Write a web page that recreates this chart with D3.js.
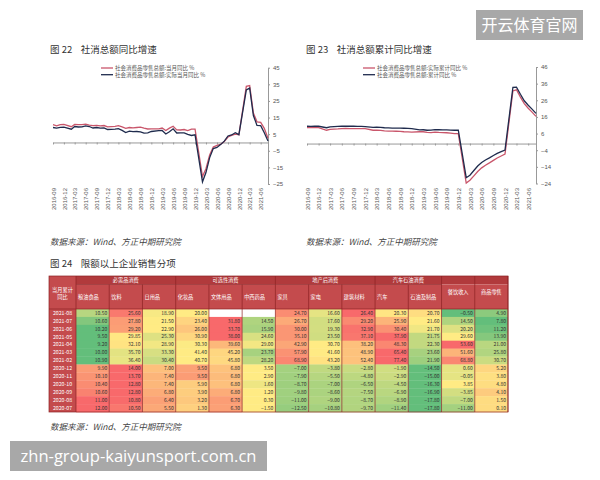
<!DOCTYPE html>
<html lang="zh">
<head>
<meta charset="utf-8">
<script src="https://cdn.jsdelivr.net/npm/d3@7"></script>
<style>
body { margin: 0; background: #fff; }
svg { display: block; font-family: "Noto Sans CJK SC", "Noto Sans", sans-serif; }
svg text { white-space: pre; }
</style>
</head>
<body>
<svg id="chart" width="600" height="480"></svg>
<script>
// monthly data, January is released together with February so it is missing
var months = [
  "2016-09","2016-10","2016-11","2016-12",
  "2017-02","2017-03","2017-04","2017-05","2017-06","2017-07","2017-08","2017-09","2017-10","2017-11","2017-12",
  "2018-02","2018-03","2018-04","2018-05","2018-06","2018-07","2018-08","2018-09","2018-10","2018-11","2018-12",
  "2019-02","2019-03","2019-04","2019-05","2019-06","2019-07","2019-08","2019-09","2019-10","2019-11","2019-12",
  "2020-02","2020-03","2020-04","2020-05","2020-06","2020-07","2020-08","2020-09","2020-10","2020-11","2020-12",
  "2021-02","2021-03","2021-04","2021-05","2021-06","2021-07","2021-08"
];
var tickLabels = ["2016-09","2016-12","2017-03","2017-06","2017-09","2017-12","2018-03","2018-06","2018-09","2018-12",
  "2019-03","2019-06","2019-09","2019-12","2020-03","2020-06","2020-09","2020-12","2021-03","2021-06"];

// 图22
var monthYoY = [10.7,10.0,10.8,10.9,
  9.5,10.9,10.7,10.7,11.0,10.4,10.1,10.3,10.0,10.2,9.4,
  9.7,10.1,9.4,8.5,9.0,8.8,9.0,9.2,8.6,8.1,8.2,
  8.2,8.7,7.2,8.6,9.8,7.6,7.5,7.8,7.2,8.0,8.0,
  -20.5,-15.8,-7.5,-2.8,-1.8,-1.1,0.5,3.3,4.3,5.0,4.6,
  33.8,34.2,17.7,12.4,12.1,8.5,2.5];
var monthRealYoY = [9.0,8.6,9.1,9.2,
  8.0,9.6,9.3,9.4,10.0,9.6,8.7,9.0,8.6,8.8,7.8,
  8.0,8.3,7.3,6.0,6.8,6.5,6.6,6.4,5.6,5.8,6.6,
  7.1,7.2,5.1,6.4,8.2,5.7,5.8,5.8,4.9,4.2,4.6,
  -23.7,-18.1,-9.1,-3.7,-3.0,-1.3,0.8,3.9,4.5,5.9,4.7,
  31.6,32.7,16.2,10.3,10.1,5.9,0.9];
var yTicks22 = [45,35,25,15,5,-5,-15,-25];

// 图23
var cumRealYoY = [9.6,9.6,9.6,9.6,
  8.0,8.5,8.7,8.8,9.0,9.1,9.0,9.0,9.0,9.0,9.0,
  8.0,8.1,7.9,7.6,7.5,7.5,7.4,7.3,7.1,7.0,6.9,
  7.1,7.1,6.7,6.6,6.9,6.7,6.6,6.5,6.3,6.0,6.0,
  -23.7,-22.0,-19.4,-16.8,-14.6,-13.0,-11.6,-10.1,-8.7,-7.5,-6.3,
  31.6,32.3,27.9,24.0,21.2,18.9,16.3];
var cumYoY = [10.4,10.3,10.4,10.4,
  9.5,10.0,10.2,10.3,10.4,10.4,10.4,10.4,10.3,10.3,10.2,
  9.7,9.8,9.7,9.5,9.4,9.3,9.3,9.3,9.2,9.1,9.0,
  8.2,8.3,8.0,8.1,8.4,8.3,8.2,8.2,8.1,8.0,8.0,
  -20.5,-19.0,-16.2,-13.5,-11.4,-9.9,-8.6,-7.2,-5.9,-4.8,-3.9,
  33.8,33.9,29.6,25.7,23.0,20.7,18.1];
var yTicks23 = [46,36,26,16,6,-4,-14,-24];

// 图24 table
var rowLabels = ["2021-08","2021-07","2021-06","2021-05","2021-04","2021-03","2021-02",
  "2020-12","2020-11","2020-10","2020-09","2020-08","2020-07"];
var groupNames = ["必需品消费","可选性消费","地产后消费","汽车石油消费"];
var groupSizes = [3,3,3,2];
var colNames = ["粮油食品","饮料","日用品","化妆品","文体用品","中西药品","家具","家电","建筑材料","汽车","石油及制品","餐饮收入","商品零售"];
var tableValues = [
  [10.50,25.60,18.90,20.00,null,null,24.70,16.60,26.40,20.30,20.70,-0.50,4.90],
  [10.60,27.80,21.50,23.40,31.80,14.50,26.70,17.60,29.20,25.90,21.60,14.50,7.80],
  [10.20,29.20,22.90,26.00,33.70,15.90,30.00,19.30,32.90,30.40,21.70,20.20,11.20],
  [9.50,29.85,25.30,30.90,38.00,24.60,35.10,23.50,37.10,37.90,21.75,29.60,13.90],
  [9.20,32.10,28.90,30.30,39.60,29.00,42.90,30.70,38.20,48.30,22.30,53.60,21.00],
  [10.00,35.70,33.30,41.40,45.20,23.70,57.90,41.60,48.90,65.40,23.60,51.60,25.80],
  [10.90,36.40,30.40,40.70,45.80,28.20,68.90,43.20,52.40,77.40,21.90,68.80,30.70],
  [9.90,14.00,7.00,9.50,6.80,3.50,-7.00,-3.80,-2.80,-1.90,-14.50,0.60,5.20],
  [10.10,13.70,7.40,9.50,6.80,2.90,-7.90,-5.50,-4.80,-2.90,-15.00,-0.05,3.80],
  [10.40,12.80,7.40,5.90,6.80,1.60,-8.70,-7.00,-6.50,-4.50,-16.30,3.85,4.80],
  [10.60,12.80,6.80,3.90,6.80,1.20,-9.80,-8.60,-7.50,-6.90,-16.90,-3.85,4.10],
  [11.00,10.80,6.40,3.20,6.70,0.30,-11.00,-9.00,-8.70,-8.90,-17.80,-7.00,1.50],
  [12.00,10.50,5.50,1.30,6.30,-1.50,-12.50,-10.80,-9.70,-11.40,-17.80,-11.00,0.10]
];

var svg = d3.select("#chart");
var parse = d3.timeParse("%Y-%m");
var pink = "#c9566b", navy = "#1f2b4d";

function lineChart(opt) {
  var g = svg.append("g");
  var x = d3.scaleTime().domain([parse(months[0]), parse(months[months.length - 1])]).range([opt.x0, opt.x1]);
  var y = d3.scaleLinear().domain(opt.yDomain).range(opt.yRange);
  var tickDates = tickLabels.map(parse);

  g.append("text").attr("x", opt.titleX).attr("y", 53)
    .attr("font-size", 9.5).attr("fill", "#333").text(opt.title);

  // zero line
  g.append("g").attr("transform", "translate(0," + y(0) + ")")
    .call(d3.axisBottom(x).tickValues(tickDates).tickSize(2).tickSizeOuter(0).tickFormat(""))
    .call(a => a.selectAll("path,line").attr("stroke", "#999"));

  // right axis
  g.append("g").attr("transform", "translate(" + opt.x1 + ",0)")
    .call(d3.axisRight(y).tickValues(opt.yTicks).tickSize(2).tickSizeOuter(0).tickPadding(3))
    .call(a => a.selectAll("path,line").attr("stroke", "#999"))
    .call(a => a.selectAll("text").attr("font-size", 6).attr("fill", "#555"));

  // date labels at the bottom
  g.append("g").attr("transform", "translate(0,188)")
    .call(d3.axisBottom(x).tickValues(tickDates).tickSize(0).tickFormat(d3.timeFormat("%Y-%m")))
    .call(a => a.select(".domain").remove())
    .call(a => a.selectAll("text")
      .attr("x", 0).attr("y", 0).attr("dy", "0.35em")
      .attr("transform", "rotate(-90)")
      .attr("text-anchor", "end")
      .attr("font-size", 6).attr("fill", "#555"));

  opt.series.forEach(function (s, i) {
    var line = d3.line().x((d, j) => x(parse(months[j]))).y(d => y(d));
    g.append("path").datum(s.values)
      .attr("fill", "none").attr("stroke", s.color).attr("stroke-width", 1.3)
      .attr("d", line);
    var ly = 68 + i * 6.7;
    g.append("line").attr("x1", opt.legendX).attr("x2", opt.legendX + 12)
      .attr("y1", ly).attr("y2", ly).attr("stroke", s.color).attr("stroke-width", 1.3);
    g.append("text").attr("x", opt.legendX + 14).attr("y", ly).attr("dy", "0.35em")
      .attr("font-size", 5.5).attr("fill", "#555").text(s.name);
  });

  g.append("text").attr("x", opt.titleX).attr("y", 245)
    .attr("font-size", 8.5).attr("font-style", "italic").attr("fill", "#444")
    .text("数据来源：Wind、方正中期研究院");
}

lineChart({
  title: "图 22    社消总额同比增速", titleX: 50,
  x0: 53, x1: 268, yDomain: [-25, 45], yRange: [184, 67.7], yTicks: yTicks22, legendX: 101,
  series: [
    { name: "社会消费品零售总额:当月同比 %", values: monthYoY, color: pink },
    { name: "社会消费品零售总额:实际当月同比 %", values: monthRealYoY, color: navy }
  ]
});
lineChart({
  title: "图 23    社消总额累计同比增速", titleX: 306,
  x0: 307, x1: 536, yDomain: [-24, 46], yRange: [183.5, 67], yTicks: yTicks23, legendX: 363,
  series: [
    { name: "社会消费品零售总额:实际累计同比 %", values: cumRealYoY, color: pink },
    { name: "社会消费品零售总额:累计同比 %", values: cumYoY, color: navy }
  ]
});

// ---- table ----
var t = svg.append("g");
t.append("text").attr("x", 50).attr("y", 267).attr("font-size", 9.5).attr("fill", "#333")
  .text("图 24    限额以上企业销售分项");

var left = 49, colX0 = 76, colX1 = 508;
var top0 = 276, top1 = 284.5, top2 = 309, bottom = 412;
var hdrDark = "#b13a3c", hdr = "#c44b4d", border = "#8c2224";

var cx = d3.scaleBand().domain(d3.range(colNames.length)).range([colX0, colX1]);
var ry = d3.scaleBand().domain(rowLabels).range([top2, bottom]);

// header backgrounds
t.append("rect").attr("x", left).attr("y", top0).attr("width", colX1 - left).attr("height", top1 - top0).attr("fill", hdrDark);
t.append("rect").attr("x", left).attr("y", top1).attr("width", colX1 - left).attr("height", top2 - top1).attr("fill", hdr);
t.append("rect").attr("x", left).attr("y", top0).attr("width", colX0 - left).attr("height", bottom - top0).attr("fill", hdr);

function txt(sel, x, y, s, anchor) {
  return sel.append("text").attr("x", x).attr("y", y).attr("dy", "0.35em")
    .attr("text-anchor", anchor || "middle").attr("font-size", 5.2).attr("fill", "#fff").text(s);
}
txt(t, (left + colX0) / 2, 290, "当月累计");
txt(t, (left + colX0) / 2, 297, "同比");

// group headers
var start = 0;
groupNames.forEach(function (name, i) {
  var xa = cx(start), xb = cx(start + groupSizes[i] - 1) + cx.bandwidth();
  txt(t, (xa + xb) / 2, (top0 + top1) / 2, name);
  t.append("line").attr("x1", xa).attr("x2", xb).attr("y1", top1).attr("y2", top1).attr("stroke", border).attr("stroke-width", 0.6);
  start += groupSizes[i];
});
// sub headers
colNames.forEach(function (name, j) {
  if (j < start) txt(t, cx(j) + 2, (top1 + top2) / 2, name, "start");
  else txt(t, cx(j) + cx.bandwidth() / 2, (top0 + top2) / 2, name);
});

// row labels
rowLabels.forEach(function (r) {
  txt(t, (left + colX0) / 2, ry(r) + ry.bandwidth() / 2, r);
});

// cells, coloured row by row (min green, median yellow, max red)
tableValues.forEach(function (row, i) {
  var vals = row.filter(v => v !== null);
  var color = d3.scaleLinear()
    .domain([d3.min(vals), d3.median(vals), d3.max(vals)])
    .range(["#63be7b", "#ffeb84", "#f8696b"]);
  var g = t.append("g");
  g.selectAll("rect").data(row).join("rect")
    .attr("x", (d, j) => cx(j)).attr("y", ry(rowLabels[i]))
    .attr("width", cx.bandwidth()).attr("height", ry.bandwidth() + 0.3)
    .attr("fill", d => d === null ? "#fff" : color(d));
  g.selectAll("text").data(row).join("text")
    .attr("x", (d, j) => cx(j) + cx.bandwidth() - 2)
    .attr("y", ry(rowLabels[i]) + ry.bandwidth() / 2).attr("dy", "0.35em")
    .attr("text-anchor", "end").attr("font-size", 5).attr("fill", "#333")
    .text(d => d === null ? "" : d3.format(".2f")(d));
});

// vertical lines, full height at group edges
var groupEdges = [0, 3, 6, 9, 11, 12, 13];
d3.range(colNames.length + 1).forEach(function (j) {
  var xx = j < colNames.length ? cx(j) : colX1;
  t.append("line").attr("x1", xx).attr("x2", xx)
    .attr("y1", groupEdges.indexOf(j) >= 0 ? top0 : top1).attr("y2", bottom)
    .attr("stroke", border).attr("stroke-width", 0.7);
});
t.append("rect").attr("x", left).attr("y", top0).attr("width", colX1 - left).attr("height", bottom - top0)
  .attr("fill", "none").attr("stroke", border).attr("stroke-width", 0.7);
t.append("line").attr("x1", left).attr("x2", colX1).attr("y1", top2).attr("y2", top2).attr("stroke", border).attr("stroke-width", 0.7);

t.append("text").attr("x", 50).attr("y", 430)
  .attr("font-size", 8.5).attr("font-style", "italic").attr("fill", "#444")
  .text("数据来源：Wind、方正中期研究院");

// watermarks
svg.append("rect").attr("x", 476).attr("y", 10).attr("width", 107).attr("height", 30).attr("fill", "#a8a8a8");
svg.append("text").attr("x", 529.5).attr("y", 25).attr("dy", "0.35em").attr("text-anchor", "middle")
  .attr("font-size", 16).attr("fill", "#fff").text("开云体育官网");
svg.append("rect").attr("x", 10).attr("y", 441).attr("width", 257).attr("height", 30).attr("fill", "#a8a8a8");
svg.append("text").attr("x", 138.5).attr("y", 456).attr("dy", "0.35em").attr("text-anchor", "middle")
  .attr("font-size", 16).attr("fill", "#fff").attr("font-family", "'Open Sans', sans-serif")
  .attr("textLength", 236).attr("lengthAdjust", "spacingAndGlyphs")
  .text("zhn-group-kaiyunsport.com.cn");
</script>
</body>
</html>
